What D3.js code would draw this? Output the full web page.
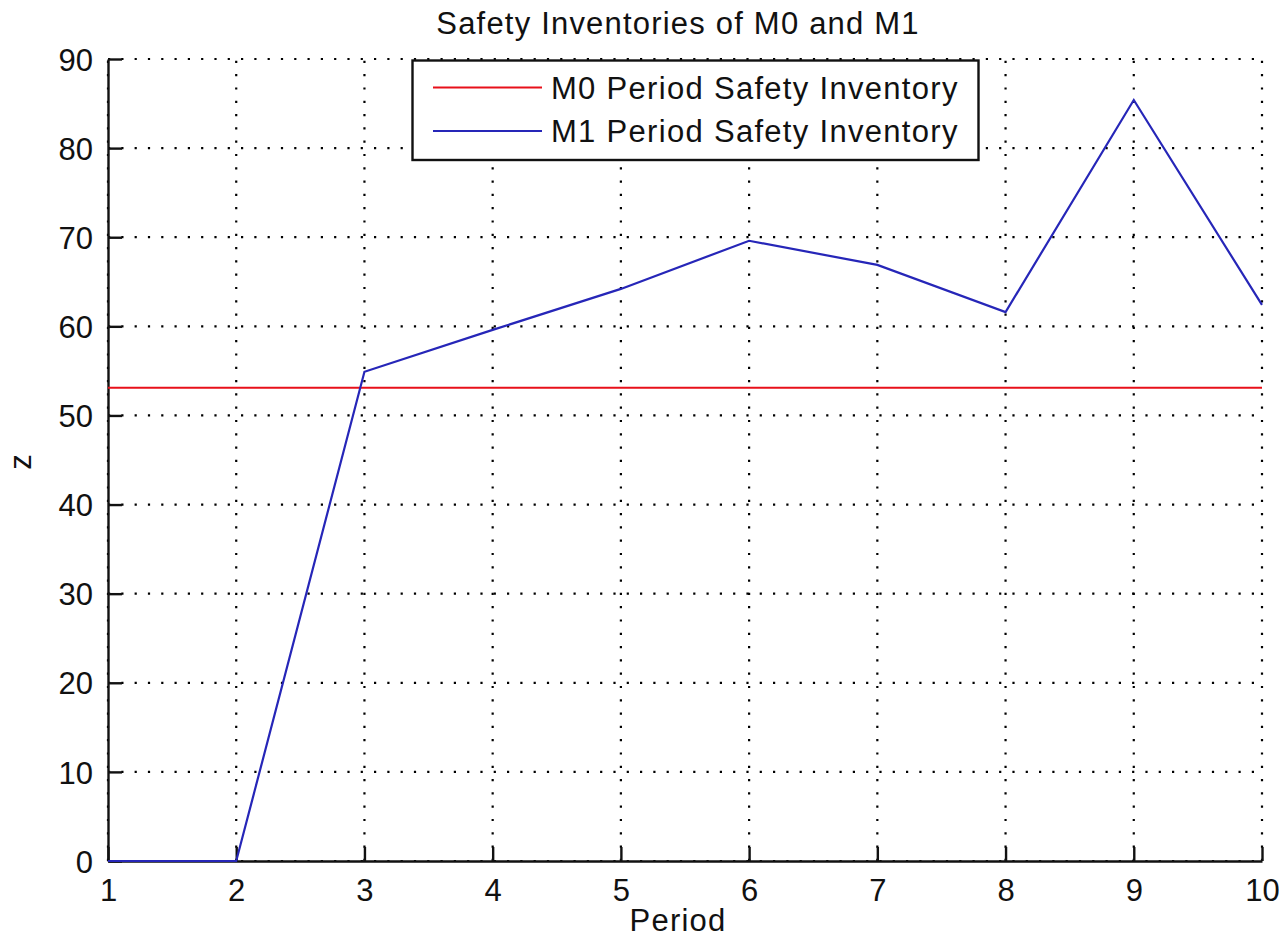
<!DOCTYPE html>
<html>
<head>
<meta charset="utf-8">
<script src="https://cdn.jsdelivr.net/npm/d3@7"></script>
<style>
  html, body { margin: 0; padding: 0; background: #fff; }
  svg { display: block; }
  text { font-family: "Liberation Sans", Arial, sans-serif; fill: #111; }
</style>
</head>
<body>
<script>
const periods = [1, 2, 3, 4, 5, 6, 7, 8, 9, 10];
const m0Values = [53.1, 53.1, 53.1, 53.1, 53.1, 53.1, 53.1, 53.1, 53.1, 53.1];
const m1Values = [0, 0, 54.9, 59.6, 64.2, 69.6, 66.9, 61.6, 85.4, 62.4];
const xTicks = [1, 2, 3, 4, 5, 6, 7, 8, 9, 10];
const yTicks = [0, 10, 20, 30, 40, 50, 60, 70, 80, 90];
const seriesNames = ["M0 Period Safety Inventory", "M1 Period Safety Inventory"];
const titleText = "Safety Inventories of M0 and M1";

const W = 1279, H = 940;
const margin = { left: 108, right: 1279 - 1262, top: 59, bottom: 940 - 861 };
const colors = ["#e8101a", "#2626b8"];

const svg = d3.select("body").append("svg").attr("width", W).attr("height", H);

const x = d3.scaleLinear().domain([1, 10]).range([margin.left, W - margin.right]);
const y = d3.scaleLinear().domain([0, 90]).range([H - margin.bottom, margin.top]);

// grid
const grid = svg.append("g");
grid.selectAll("line.gx").data(xTicks).join("line")
  .attr("x1", d => x(d)).attr("x2", d => x(d))
  .attr("y1", y(0)).attr("y2", y(90))
  .attr("stroke", "#000").attr("stroke-width", 2.2)
  .attr("stroke-dasharray", "2.2,11.1");
grid.selectAll("line.gy").data(yTicks).join("line")
  .attr("y1", d => y(d)).attr("y2", d => y(d))
  .attr("x1", x(1)).attr("x2", x(10))
  .attr("stroke", "#000").attr("stroke-width", 2.2)
  .attr("stroke-dasharray", "2.2,11.1");

// axes
const xAxis = d3.axisBottom(x).tickValues(xTicks).tickSizeInner(-14).tickSizeOuter(0).tickPadding(18);
const yAxis = d3.axisLeft(y).tickValues(yTicks).tickSizeInner(-14).tickSizeOuter(0).tickPadding(15);

const gx = svg.append("g").attr("transform", `translate(0,${y(0)})`).call(xAxis);
const gy = svg.append("g").attr("transform", `translate(${x(1)},0)`).call(yAxis);
[gx, gy].forEach(g => {
  g.select(".domain").attr("stroke", "#111").attr("stroke-width", 2.4);
  g.selectAll(".tick line").attr("stroke", "#111").attr("stroke-width", 2.4);
  g.selectAll(".tick text").attr("font-size", 31).attr("font-family", "Liberation Sans, Arial, sans-serif").attr("fill", "#111");
});
gx.selectAll(".tick text").attr("dy", "0.71em");
gy.selectAll(".tick text").attr("dy", "0.36em");

// lines
const line = d3.line().x((d, i) => x(periods[i])).y(d => y(d));
svg.append("path").datum(m0Values).attr("d", line)
  .attr("fill", "none").attr("stroke", colors[0]).attr("stroke-width", 2);
svg.append("path").datum(m1Values).attr("d", line)
  .attr("fill", "none").attr("stroke", colors[1]).attr("stroke-width", 2.2);

// title and labels
svg.append("text").attr("x", 678).attr("y", 34).attr("text-anchor", "middle")
  .attr("font-size", 31).attr("letter-spacing", 1.2).text(titleText);
svg.append("text").attr("x", 678).attr("y", 931).attr("text-anchor", "middle")
  .attr("font-size", 31).attr("letter-spacing", 1.2).text("Period");
svg.append("text").attr("transform", "translate(31,462) rotate(-90)").attr("text-anchor", "middle")
  .attr("font-size", 31).text("z");

// legend
const leg = svg.append("g");
leg.append("rect").attr("x", 412.5).attr("y", 60.5).attr("width", 566).attr("height", 99.5)
  .attr("fill", "#fff").attr("stroke", "#111").attr("stroke-width", 2.4);
const legY = [87.5, 131];
seriesNames.forEach((name, i) => {
  leg.append("line").attr("x1", 433).attr("x2", 542).attr("y1", legY[i]).attr("y2", legY[i])
    .attr("stroke", colors[i]).attr("stroke-width", 2);
  leg.append("text").attr("x", 551).attr("y", legY[i]).attr("dy", "0.36em")
    .attr("font-size", 31).attr("letter-spacing", 1.3).text(name);
});
</script>
</body>
</html>
